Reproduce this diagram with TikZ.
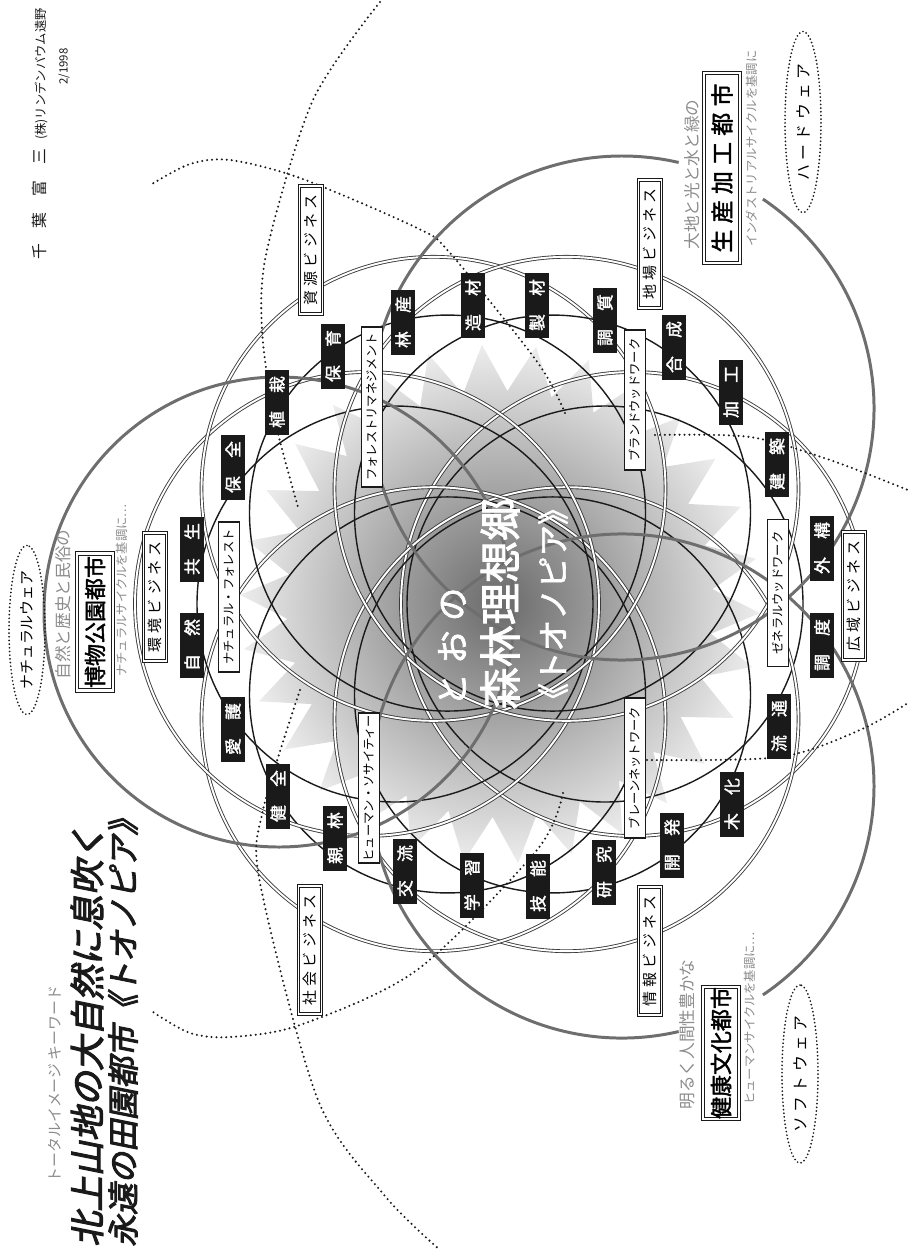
\documentclass[tikz,border=0pt]{standalone}
\usepackage{fontspec}
\usetikzlibrary{positioning,shapes.geometric,calc}
\newfontfamily\jp[AutoFakeBold=2]{Noto Sans CJK JP}
\newfontfamily\jpwide[AutoFakeBold=2,LetterSpace=28]{Noto Sans CJK JP}
\newfontfamily\jptitle[FakeSlant=0.2,FakeBold=3]{Noto Sans CJK JP}
\definecolor{ink}{HTML}{1A1A1A}
\definecolor{ringc}{HTML}{3A3A3A}
\definecolor{cycc}{HTML}{6E6E6E}
\definecolor{soft}{HTML}{8C8C8C}
\definecolor{hazein}{HTML}{6A6A6A}
\definecolor{hazeout}{HTML}{EDEDED}
\tikzset{
  kbox/.style={fill=ink,text=white,rotate=90,inner sep=0pt,minimum width=1.3cm,minimum height=0.48cm,
    font=\jp\bfseries\fontsize{9.5}{9.5}\selectfont},
  biz/.style={draw=ink,double=white,double distance=1pt,line width=0.6pt,fill=white,rotate=90,inner sep=0pt,
    minimum width=2.56cm,minimum height=0.46cm,font=\jpwide\fontsize{8.5}{8.5}\selectfont},
  wlab/.style={draw=ink,fill=white,line width=0.7pt,rotate=90,inner sep=0pt,minimum height=0.42cm,
    font=\jp\fontsize{7}{7}\selectfont},
  city/.style={draw=ink,double=white,double distance=1.2pt,line width=0.6pt,fill=white,rotate=90,inner sep=0pt,
    minimum height=0.72cm,font=\jpwide\bfseries\fontsize{13}{13}\selectfont},
  ware/.style={ellipse,draw=ink,line width=1.1pt,line cap=round,dash pattern=on 0pt off 2.1pt,rotate=90,
    inner sep=0pt,minimum height=0.72cm,font=\jpwide\fontsize{9}{9}\selectfont},
  note/.style={rotate=90,inner sep=0pt,anchor=west,text=soft,font=\jp\fontsize{7}{7}\selectfont},
  dring/.style={draw=ringc,double=white,double distance=1.1pt,line width=0.5pt},
  sring/.style={draw=ink,line width=0.8pt},
  cyc/.style={draw=cycc,line width=1.7pt},
  dots/.style={draw=ink,line width=1.3pt,line cap=round,dash pattern=on 0pt off 2.8pt},
  core/.style={rotate=90,text=white,inner sep=0pt},
}

\begin{document}
\begin{tikzpicture}[x=0.02cm,y=-0.02cm]
  \useasboundingbox (0,0) rectangle (910,1258);
  % ---------- haze behind the rosette ----------
  \coordinate (mid) at (500,604);
  \node[star,star points=30,star point ratio=1.22,minimum size=10.4cm,inner sep=0pt,rotate=4,
        shading=radial,inner color=hazein,outer color=hazeout] (haze) at (mid) {};
  % ---------- rosette ----------
  \foreach \a in {0,60,...,300} {
    \draw[dring] ($(mid)+(\a:133)$) circle[radius=232];
    \draw[sring] ($(mid)+(\a:105)$) circle[radius=198];
  }
  % ---------- three cycles ----------
  \draw[cyc] (279,612) circle[radius=235];
  \draw[cyc] (622,408) ++(-56:252) arc[start angle=-56,end angle=283,radius=252];
  \draw[cyc] (622,786) ++(77:252) arc[start angle=77,end angle=416,radius=252];
  % ---------- dotted arcs ----------
  \draw[dots] plot[smooth] coordinates {(380,2) (313,100) (267,250) (262,330) (275,420) (298,507)};
  \draw[dots] plot[smooth] coordinates {(565,413) (538,363) (450,253) (417,228) (300,178) (230,160) (190,164) (152,184)};
  \draw[dots] plot[smooth] coordinates {(655,435) (750,437) (830,460) (908,490)};
  \draw[dots] plot[smooth] coordinates {(647,760) (780,757) (860,730) (908,703)};
  \draw[dots] plot[smooth] coordinates {(300,690) (263,810) (260,883) (318,1100) (385,1196) (440,1250)};
  \draw[dots] plot[smooth] coordinates {(563,793) (537,850) (417,970) (300,1025) (230,1037) (190,1033) (153,1012)};
  % ---------- core text ----------
  \node[core,font=\jpwide\bfseries\fontsize{19}{19}\selectfont] (c1) at (452,647) {とおの};
  \node[core,font=\jp\bfseries\fontsize{24}{24}\selectfont] (c2) at (500,604) {森林理想郷};
  \node[core,font=\jp\bfseries\fontsize{18}{18}\selectfont] (c3) at (553,604) {《トオノピア》};
  % ---------- inner labels ----------
  \node[wlab,minimum width=3cm]    (nf) at (229,597) {ナチュラル・フォレスト};
  \node[wlab,minimum width=3.2cm]  (fm) at (372,407) {フォレストリマネジメント};
  \node[wlab,minimum width=2.8cm]  (bw) at (635,400) {ブランドウッドワーク};
  \node[wlab,minimum width=2.94cm] (gw) at (778,593) {ゼネラルウッドワーク};
  \node[wlab,minimum width=2.8cm]  (bn) at (635,768) {ブレーンネットワーク};
  \node[wlab,minimum width=3cm]    (hs) at (369,788) {ヒューマン・ソサイティー};
  % ---------- business labels ----------
  \node[biz] (b1) at (155,597) {環境ビジネス};
  \node[biz] (b2) at (311,250) {資源ビジネス};
  \node[biz] (b3) at (650,244) {地場ビジネス};
  \node[biz] (b4) at (854,596) {広域ビジネス};
  \node[biz] (b5) at (650,951) {情報ビジネス};
  \node[biz] (b6) at (310,950) {社会ビジネス};
  % ---------- black word boxes ----------
  \foreach \x/\y/\s/\t [count=\i] in {192/645/自/然, 192/549/共/生, 233/467/保/全, 277/402/植/栽,
      333/356/保/育, 403/322/林/産, 473/305/造/材, 537/305/製/材, 605/320/調/質, 674/347/合/成,
      731/392/加/工, 777/464/建/築, 822/548/外/構, 822/645/調/度, 779/726/流/通, 732/804/木/化,
      672/845/開/発, 604/872/研/究, 538/886/技/能, 472/885/学/習, 405/871/交/流, 335/838/親/林,
      278/796/健/全, 233/729/愛/護}
    \node[kbox] (k\i) at (\x,\y) {\s\hspace{1.1em}\t};
  % ---------- cities ----------
  \node[city,minimum width=3.8cm] (ind) at (722,168) {生産加工都市};
  \node[note,font=\jp\fontsize{9.5}{9.5}\selectfont] (ind-a) at (692,250) {大地と光と水と緑の};
  \node[note] (ind-b) at (752,247) {インダストリアルサイクルを基調に};
  \node[ware,minimum width=3.62cm] (hw) at (803,122) {ハードウェア};
  \node[city,minimum width=2.74cm,font=\jp\bfseries\fontsize{12.5}{12.5}\selectfont] (nat) at (95,622) {博物公園都市};
  \node[note,font=\jp\fontsize{9.5}{9.5}\selectfont] (nat-a) at (63,680) {自然と歴史と民俗の};
  \node[note] (nat-b) at (122,677) {ナチュラルサイクルを基調に…};
  \node[ware,minimum width=3cm,font=\jp\fontsize{8.5}{8.5}\selectfont] (nw) at (27,630) {ナチュラルウェア};
  \node[city,minimum width=2.54cm,font=\jp\bfseries\fontsize{12.5}{12.5}\selectfont] (hum) at (721,1053) {健康文化都市};
  \node[note,font=\jp\fontsize{9.5}{9.5}\selectfont] (hum-a) at (687,1110) {明るく人間性豊かな};
  \node[note] (hum-b) at (750,1105) {ヒューマンサイクルを基調に…};
  \node[ware,minimum width=3.56cm] (sw) at (800,1074) {ソフトウェア};
  % ---------- title ----------
  \node[note,font=\jp\fontsize{8.5}{8.5}\selectfont] (kw) at (55,1183) {トータルイメージ キーワード};
  \node[rotate=90,anchor=west,inner sep=0pt,text=ink,font=\jptitle\fontsize{20}{20}\selectfont] (t1) at (87,1247) {北上山地の大自然に息吹く};
  \node[rotate=90,anchor=west,inner sep=0pt,text=ink,font=\jptitle\fontsize{18}{18}\selectfont] (t2) at (123,1247) {永遠の田園都市《トオノピア》};
  % ---------- author ----------
  \node[rotate=90,anchor=east,inner sep=0pt,text=ink,font=\jp\fontsize{9}{9}\selectfont] (au) at (40,8) {千\hspace{1em}葉\hspace{1em}富\hspace{1em}三\hspace{0.6em}{\fontsize{7}{7}\selectfont (株)リンデンバウム遠野}};
  \node[rotate=90,anchor=east,inner sep=0pt,text=ink,font=\jp\fontsize{6.5}{6.5}\selectfont] (dt) at (64,48) {2/1998};
\end{tikzpicture}
\end{document}
